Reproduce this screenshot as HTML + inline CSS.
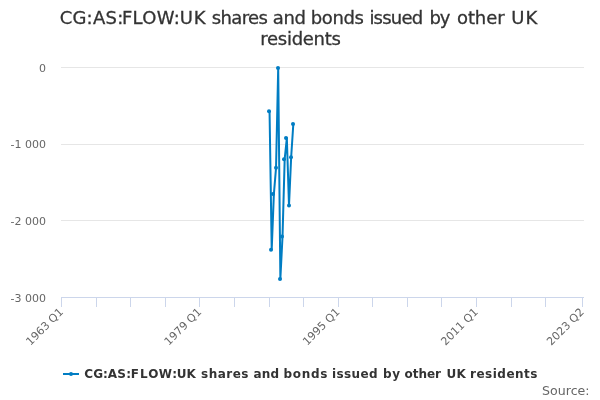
<!DOCTYPE html>
<html><head><meta charset="utf-8"><title>CG:AS:FLOW:UK shares and bonds issued by other UK residents</title>
<style>
html,body{margin:0;padding:0;background:#fff;}
body{width:600px;height:400px;overflow:hidden;}
svg{display:block;font-family:"DejaVu Sans","Liberation Sans",sans-serif;}
.ax{font-size:11px;fill:#666666;}
.title{font-size:18px;fill:#333333;stroke:#333333;stroke-width:0.3px;}
.leg{font-size:12px;font-weight:bold;fill:#333333;}
.cred{font-size:12.6px;fill:#666666;}
</style></head><body>
<svg width="600" height="400" viewBox="0 0 600 400">
<rect x="0" y="0" width="600" height="400" fill="#FFFFFF"/>
<path d="M 61 67.5 L 584 67.5" stroke="#E6E6E6" stroke-width="1" fill="none"/>
<path d="M 61 144.5 L 584 144.5" stroke="#E6E6E6" stroke-width="1" fill="none"/>
<path d="M 61 220.5 L 584 220.5" stroke="#E6E6E6" stroke-width="1" fill="none"/>
<path d="M 61 297.5 L 584 297.5" stroke="#ccd6eb" stroke-width="1" fill="none"/>
<path d="M 61.5 297 L 61.5 307" stroke="#ccd6eb" stroke-width="1" fill="none"/>
<path d="M 96.5 297 L 96.5 307" stroke="#ccd6eb" stroke-width="1" fill="none"/>
<path d="M 130.5 297 L 130.5 307" stroke="#ccd6eb" stroke-width="1" fill="none"/>
<path d="M 165.5 297 L 165.5 307" stroke="#ccd6eb" stroke-width="1" fill="none"/>
<path d="M 199.5 297 L 199.5 307" stroke="#ccd6eb" stroke-width="1" fill="none"/>
<path d="M 234.5 297 L 234.5 307" stroke="#ccd6eb" stroke-width="1" fill="none"/>
<path d="M 269.5 297 L 269.5 307" stroke="#ccd6eb" stroke-width="1" fill="none"/>
<path d="M 303.5 297 L 303.5 307" stroke="#ccd6eb" stroke-width="1" fill="none"/>
<path d="M 338.5 297 L 338.5 307" stroke="#ccd6eb" stroke-width="1" fill="none"/>
<path d="M 372.5 297 L 372.5 307" stroke="#ccd6eb" stroke-width="1" fill="none"/>
<path d="M 407.5 297 L 407.5 307" stroke="#ccd6eb" stroke-width="1" fill="none"/>
<path d="M 441.5 297 L 441.5 307" stroke="#ccd6eb" stroke-width="1" fill="none"/>
<path d="M 476.5 297 L 476.5 307" stroke="#ccd6eb" stroke-width="1" fill="none"/>
<path d="M 511.5 297 L 511.5 307" stroke="#ccd6eb" stroke-width="1" fill="none"/>
<path d="M 545.5 297 L 545.5 307" stroke="#ccd6eb" stroke-width="1" fill="none"/>
<path d="M 582.5 297 L 582.5 307" stroke="#ccd6eb" stroke-width="1" fill="none"/>
<path d="M 269.55 111.20 L 271.71 249.70 L 273.87 194.10 L 276.04 167.80 L 278.20 68.10 L 280.36 278.90 L 282.52 236.40 L 284.68 159.20 L 286.84 138.00 L 289.00 205.60 L 291.16 157.20 L 293.32 124.00" stroke="#007dc3" stroke-width="2" fill="none" stroke-linejoin="round" stroke-linecap="round"/>
<circle cx="269" cy="111.20" r="2" fill="#007dc3"/>
<circle cx="271" cy="249.70" r="2" fill="#007dc3"/>
<circle cx="273" cy="194.10" r="2" fill="#007dc3"/>
<circle cx="276" cy="167.80" r="2" fill="#007dc3"/>
<circle cx="278" cy="68.10" r="2" fill="#007dc3"/>
<circle cx="280" cy="278.90" r="2" fill="#007dc3"/>
<circle cx="282" cy="236.40" r="2" fill="#007dc3"/>
<circle cx="284" cy="159.20" r="2" fill="#007dc3"/>
<circle cx="286" cy="138.00" r="2" fill="#007dc3"/>
<circle cx="289" cy="205.60" r="2" fill="#007dc3"/>
<circle cx="291" cy="157.20" r="2" fill="#007dc3"/>
<circle cx="293" cy="124.00" r="2" fill="#007dc3"/>
<text class="title" xml:space="preserve"><tspan x="59.85" y="24" textLength="32.73" lengthAdjust="spacing">CG:</tspan><tspan x="93.00" y="24" textLength="30.30" lengthAdjust="spacing">AS:</tspan><tspan x="121.94" y="24" textLength="57.79" lengthAdjust="spacing">FLOW:</tspan><tspan x="179.85" y="24" textLength="25.80" lengthAdjust="spacing">UK</tspan> <tspan x="211.84" y="24" textLength="56.04" lengthAdjust="spacing">shares</tspan> <tspan x="272.73" y="24" textLength="33.26" lengthAdjust="spacing">and</tspan> <tspan x="310.68" y="24" textLength="53.20" lengthAdjust="spacing">bonds</tspan> <tspan x="369.42" y="24" textLength="53.67" lengthAdjust="spacing">issued</tspan> <tspan x="429.38" y="24" textLength="20.95" lengthAdjust="spacing">by</tspan> <tspan x="457.00" y="24" textLength="47.54" lengthAdjust="spacing">other</tspan> <tspan x="511.20" y="24" textLength="26.12" lengthAdjust="spacing">UK</tspan></text><text class="title" xml:space="preserve"><tspan x="260.30" y="45" textLength="80.58" lengthAdjust="spacing">residents</tspan></text>
<path d="M 63 374 L 79 374" stroke="#007dc3" stroke-width="2" fill="none"/>
<circle cx="71" cy="374" r="2" fill="#007dc3"/>
<text class="leg" xml:space="preserve"><tspan x="84.36" y="378" textLength="23.45" lengthAdjust="spacing">CG:</tspan><tspan x="107.77" y="378" textLength="23.18" lengthAdjust="spacing">AS:</tspan><tspan x="130.71" y="378">F</tspan><tspan x="140.00" y="378">L</tspan><tspan x="148.26" y="378" textLength="28.68" lengthAdjust="spacing">OW:</tspan><tspan x="176.71" y="378" textLength="19.14" lengthAdjust="spacing">UK</tspan> <tspan x="201.12" y="378" textLength="47.38" lengthAdjust="spacing">shares</tspan> <tspan x="253.38" y="378" textLength="25.61" lengthAdjust="spacing">and</tspan> <tspan x="283.50" y="378" textLength="44.00" lengthAdjust="spacing">bonds</tspan> <tspan x="332.00" y="378" textLength="45.61" lengthAdjust="spacing">issued</tspan> <tspan x="383.00" y="378" textLength="17.02" lengthAdjust="spacing">by</tspan> <tspan x="404.46" y="378" textLength="36.51" lengthAdjust="spacing">other</tspan> <tspan x="446.62" y="378" textLength="19.23" lengthAdjust="spacing">UK</tspan> <tspan x="470.00" y="378" textLength="67.50" lengthAdjust="spacing">residents</tspan></text>
<text x="589.6" y="394.7" text-anchor="end" class="cred">Source:</text>
<text x="63.9" y="312.6" text-anchor="end" class="ax" transform="rotate(-45 63.9 312.6)">1963 Q1</text>
<text x="202.2" y="312.6" text-anchor="end" class="ax" transform="rotate(-45 202.2 312.6)">1979 Q1</text>
<text x="340.5" y="312.6" text-anchor="end" class="ax" transform="rotate(-45 340.5 312.6)">1995 Q1</text>
<text x="478.8" y="312.6" text-anchor="end" class="ax" transform="rotate(-45 478.8 312.6)">2011 Q1</text>
<text x="584.7" y="312.6" text-anchor="end" class="ax" transform="rotate(-45 584.7 312.6)">2023 Q2</text>
<text x="46" y="72" text-anchor="end" class="ax">0</text>
<text x="46" y="148" text-anchor="end" class="ax">-1 000</text>
<text x="46" y="225" text-anchor="end" class="ax">-2 000</text>
<text x="46" y="302" text-anchor="end" class="ax">-3 000</text>
</svg>
</body></html>
